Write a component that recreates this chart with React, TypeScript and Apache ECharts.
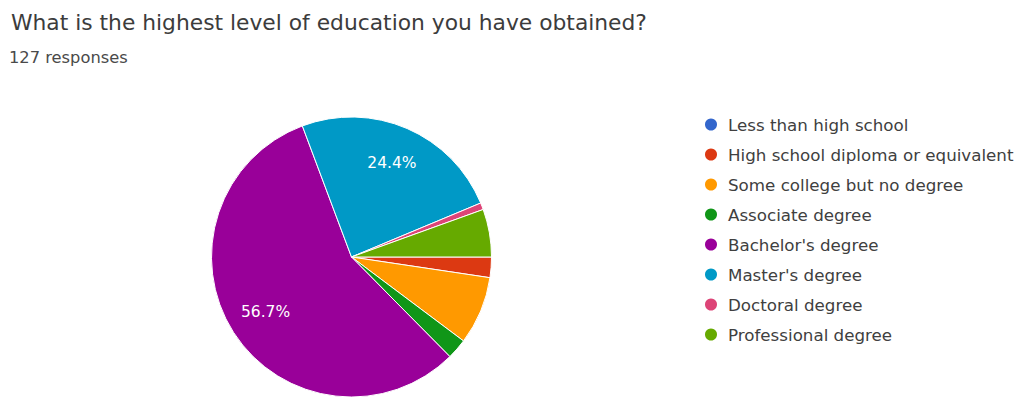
import React, { useEffect, useRef } from "react";
import * as echarts from "echarts";

const titleText = "What is the highest level of education you have obtained?";
const subText = "127 responses";
const categories = [
  "Less than high school",
  "High school diploma or equivalent",
  "Some college but no degree",
  "Associate degree",
  "Bachelor's degree",
  "Master's degree",
  "Doctoral degree",
  "Professional degree",
];
const counts = [0, 3, 10, 3, 72, 31, 1, 7];
const colors = ["#3366cc", "#dc3912", "#ff9900", "#109618", "#990099", "#0099c6", "#dd4477", "#66aa00"];
const total = counts.reduce((a, b) => a + b, 0);

const FONT = "DejaVu Sans";

export default function App() {
  const ref = useRef<HTMLDivElement>(null);
  useEffect(() => {
    const chart = echarts.init(ref.current!, null, { renderer: "svg" });
    const data = categories.map((name, i) => ({ name, value: counts[i] }));
    chart.setOption({
      animation: false,
      color: colors,
      title: [
        {
          text: titleText,
          left: 6,
          top: 6,
          textStyle: { fontFamily: FONT, fontSize: 21.8, fontWeight: "normal", color: "#3c3c3c" },
        },
        {
          text: subText,
          left: 4,
          top: 44,
          textStyle: { fontFamily: FONT, fontSize: 16.3, fontWeight: "normal", color: "#4a4a4a" },
        },
      ],
      legend: {
        orient: "vertical",
        left: 698,
        top: 111,
        icon: "circle",
        itemWidth: 14,
        itemHeight: 14,
        itemGap: 13,
        textStyle: { fontFamily: FONT, fontSize: 16.7, lineHeight: 16, color: "#404040", padding: [0, 0, 0, 5] },
        data: categories,
      },
      series: [
        {
          type: "pie",
          center: [351.5, 257],
          radius: 140,
          startAngle: 0,
          clockwise: true,
          avoidLabelOverlap: false,
          label: { show: false },
          labelLine: { show: false },
          itemStyle: { borderColor: "#fff", borderWidth: 1 },
          emphasis: { disabled: true },
          data,
        },
        {
          type: "pie",
          center: [351.5, 257],
          radius: [58, 140],
          startAngle: 0,
          clockwise: true,
          silent: true,
          avoidLabelOverlap: false,
          itemStyle: { color: "transparent", borderWidth: 0 },
          labelLine: { show: false },
          label: {
            show: true,
            position: "inside",
            fontFamily: FONT,
            fontSize: 15.5,
            color: "#fff",
            formatter: (p: any) => (p.value / total >= 0.1 ? ((p.value / total) * 100).toFixed(1) + "%" : ""),
          },
          emphasis: { disabled: true },
          legendHoverLink: false,
          data: categories.map((name, i) => ({ name: name + " ", value: counts[i] })),
        },
      ],
    });
    return () => chart.dispose();
  }, []);
  return <div ref={ref} style={{ position: "fixed", left: 0, top: 0, width: 1017, height: 397, background: "#fff" }} />;
}
